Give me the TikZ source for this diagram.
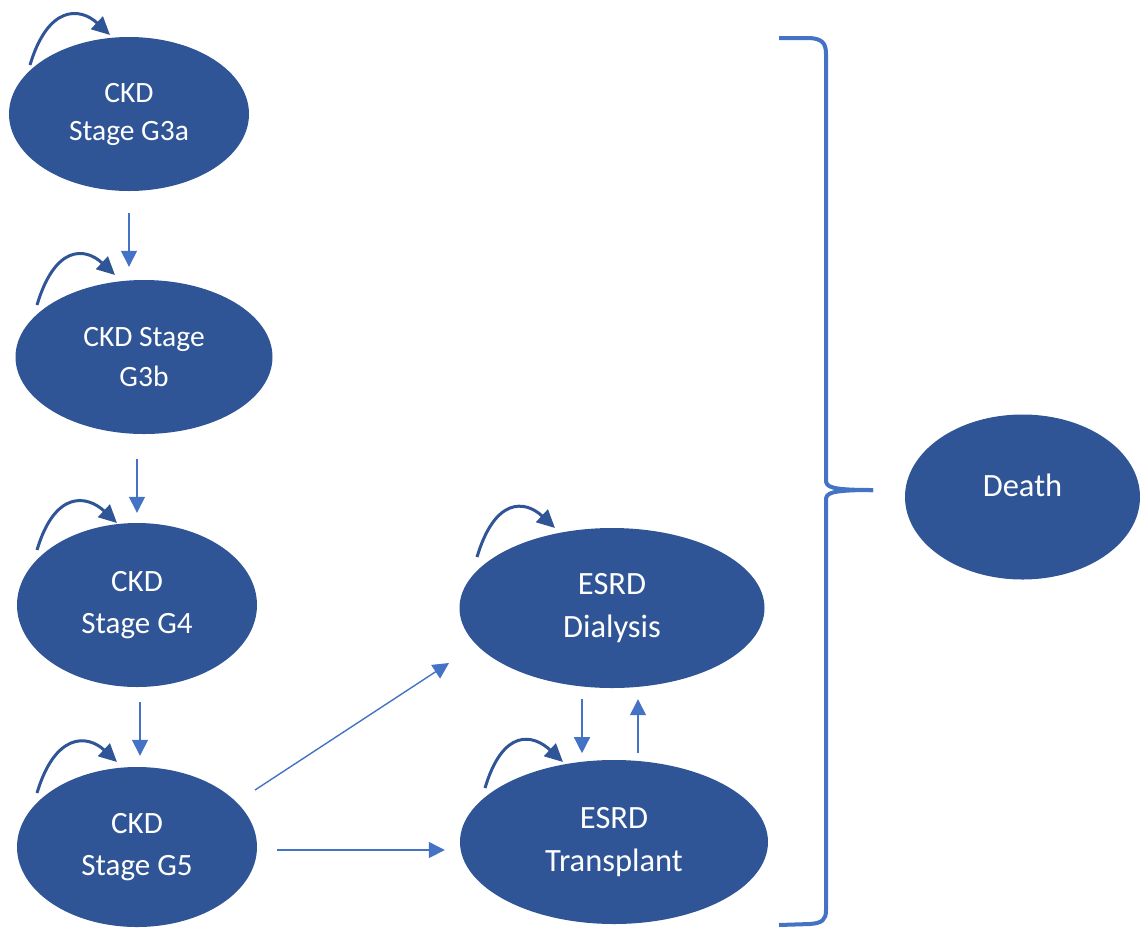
\documentclass[tikz,border=0pt]{standalone}
\usepackage{fontspec}
\setmainfont{Carlito}
\usetikzlibrary{shapes.geometric,arrows.meta,calc}
\definecolor{nodeblue}{HTML}{2F5597}
\definecolor{lineblue}{HTML}{4472C4}
\begin{document}
\begin{tikzpicture}[x=1pt,y=-1pt,
  state/.style={ellipse, fill=nodeblue, text=white, inner sep=0pt, align=center},
  ckdfont/.style={font=\fontsize{31}{42.5}\selectfont},
  esrdfont/.style={font=\fontsize{32.5}{42.5}\selectfont},
  flow/.style={draw=lineblue, line width=1.4pt, -{Triangle[length=16pt,width=16pt]}},
  selfloop/.style={draw=nodeblue, line width=3pt, -{Triangle[length=18pt,width=17pt]}},
  brace/.style={draw=lineblue, line width=4pt}]
\useasboundingbox (0,0) rectangle (1140,927);

% states
\node[state, minimum width=240pt, minimum height=154pt, font=\fontsize{29.5}{38}\selectfont] (g3a) at (129,114) {CKD\\Stage G3a};
\node[state, minimum width=257pt, minimum height=154pt, font=\fontsize{29.5}{40}\selectfont] (g3b) at (144,357) {CKD Stage\\G3b};
\node[state, minimum width=240pt, minimum height=164pt, ckdfont] (g4) at (137,605) {CKD\\Stage G4};
\node[state, minimum width=240pt, minimum height=160pt, ckdfont] (g5) at (137,847) {CKD\\Stage G5};
\node[state, minimum width=305pt, minimum height=160pt, esrdfont] (dia) at (612,608) {ESRD\\Dialysis};
\node[state, minimum width=308pt, minimum height=164pt, esrdfont] (tra) at (614,842) {ESRD\\Transplant};
\node[state, minimum width=235pt, minimum height=165pt, esrdfont, text depth=24pt] (death) at (1022.5,497) {Death};

% self loops
\draw[selfloop] ($(g3a.center)+(-99,-49)$) .. controls +(18,-60) and +(-30,-28) .. ($(g3a.center)+(-19,-79)$);
\draw[selfloop] ($(g3b.center)+(-107,-52)$) .. controls +(18,-60) and +(-30,-28) .. ($(g3b.center)+(-29,-82)$);
\draw[selfloop] ($(g4.center)+(-100,-55)$) .. controls +(18,-60) and +(-30,-28) .. ($(g4.center)+(-20,-82)$);
\draw[selfloop] ($(g5.center)+(-100,-54)$) .. controls +(18,-60) and +(-30,-28) .. ($(g5.center)+(-20,-85)$);
\draw[selfloop] ($(dia.center)+(-135,-51)$) .. controls +(18,-60) and +(-30,-28) .. ($(dia.center)+(-57,-80)$);
\draw[selfloop] ($(tra.center)+(-129,-54)$) .. controls +(18,-60) and +(-30,-28) .. ($(tra.center)+(-51,-80)$);

% transitions
\draw[flow] ($(g3a.south)+(0,22)$) -- ($(g3a.south |- g3b.north)+(0,-13)$);
\draw[flow] ($(g4.north |- g3b.south)+(0,25)$) -- ($(g4.north)+(0,-10)$);
\draw[flow] ($(g4.south)+(3,15)$) -- ($(g5.north)+(3,-11)$);
\draw[flow] ($(g5.center)+(118,-57)$) -- ($(dia.center)+(-163,55)$);
\draw[flow] ($(g5.east)+(20,3)$) -- ($(tra.west)+(-15,8)$);
\draw[flow] ($(dia.south)+(-30,11)$) -- ($(dia.south)+(-30,65)$);
\draw[flow] ($(dia.south)+(26,65)$) -- ($(dia.south)+(26,11)$);

% brace
\draw[brace] (779,38) -- (810,38) .. controls (822,39) and (826,43) .. (826,54) -- (826,480) .. controls (826,487) and (830,490) .. (873,490);
\draw[brace] (873,490) .. controls (830,490) and (826,493) .. (826,500) -- (826,910) .. controls (826,920) and (822,923) .. (810,924) -- (779,925);
\end{tikzpicture}
\end{document}
